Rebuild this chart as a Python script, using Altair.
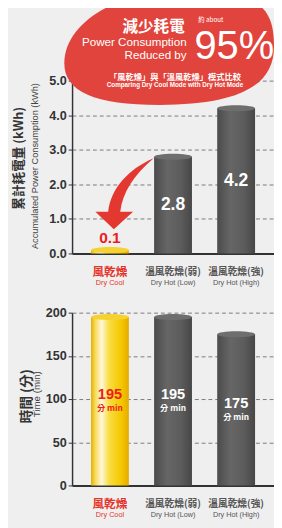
import altair as alt
import pandas as pd

# ---------------- data ----------------
categories = ["風乾燥", "溫風乾燥(弱)", "溫風乾燥(強)"]
categories_en = ["Dry Cool", "Dry Hot (Low)", "Dry Hot (High)"]
power_kwh = [0.1, 2.8, 4.2]
time_min = [195, 195, 175]
power_ticks = [0.0, 1.0, 2.0, 3.0, 4.0, 5.0]
time_ticks = [0, 50, 100, 150, 200]

# ---------------- layout / style ----------------
W = 208          # plot width
H = 417          # plot height (both panels)
TOP_H = 178      # top panel height
BOT_Y0 = 239     # y of the top of the bottom panel

LATIN = "Liberation Sans, Arial, Noto Sans CJK TC, sans-serif"
CJK = "Noto Sans CJK TC, Liberation Sans, sans-serif"
RED = "#e5332a"
GRAY_TXT = "#555555"
DARK = "#333333"
BG = "#efefef"
BADGE = "#e1443c"

power_df = pd.DataFrame({"cat": categories, "en": categories_en, "value": power_kwh})
time_df = pd.DataFrame({"cat": categories, "en": categories_en, "value": time_min})
one = pd.DataFrame({"k": [0]})

IS_COOL = "datum.cat == '風乾燥'"
NOT_COOL = "datum.cat != '風乾燥'"

yellow_grad = alt.Gradient(
    gradient="linear", x1=0, x2=1, y1=0, y2=0,
    stops=[alt.GradientStop(color="#e6b000", offset=0),
           alt.GradientStop(color="#f8dc60", offset=0.12),
           alt.GradientStop(color="#fff8d8", offset=0.28),
           alt.GradientStop(color="#f9dc40", offset=0.48),
           alt.GradientStop(color="#f4c800", offset=0.8),
           alt.GradientStop(color="#e6aa00", offset=1)])
gray_grad = alt.Gradient(
    gradient="linear", x1=0, x2=1, y1=0, y2=0,
    stops=[alt.GradientStop(color="#4b4b4b", offset=0),
           alt.GradientStop(color="#666666", offset=0.35),
           alt.GradientStop(color="#5c5c5c", offset=0.7),
           alt.GradientStop(color="#474747", offset=1)])

CYL_TOP = ("M -1 0 C -1 -0.088 -0.552 -0.16 0 -0.16 C 0.552 -0.16 1 -0.088 1 0 "
           "C 1 0.088 0.552 0.16 0 0.16 C -0.552 0.16 -1 0.088 -1 0 Z")
BADGE_PATH = ("M 1.08 -0.05 C 1.08 0.358 0.702 0.55 -0.10 0.55 "
              "C -0.766 0.55 -1.08 0.412 -1.08 0.12 "
              "C -1.08 -0.287 -0.549 -0.62 0.10 -0.62 "
              "C 0.884 -0.62 1.08 -0.506 1.08 -0.05 Z")
ARROW_PATH = ("M 0.75 -0.875 C 0.1 -0.6 -0.35 -0.1 -0.42 0.5 L -0.75 0.5 "
              "L -0.275 0.95 L 0.22 0.5 L -0.11 0.5 C -0.05 0.0 0.25 -0.45 0.75 -0.875 Z")


def xenc(offset):
    return alt.X("cat:N", sort=categories, title=None,
                 scale=alt.Scale(paddingInner=0.4, paddingOuter=0.3),
                 axis=alt.Axis(orient="bottom", offset=offset, labels=False, ticks=False,
                               grid=False, domainColor=DARK, domainWidth=2, title=None))


def yaxis(values, fmt):
    return alt.Axis(orient="left", values=values, format=fmt, title=None,
                    labelFont=LATIN, labelFontSize=13, labelFontWeight="bold",
                    labelColor=DARK, labelPadding=2, tickSize=4, tickColor=DARK,
                    domainColor=DARK, domainWidth=1.5, grid=True, gridDash=[4, 3],
                    gridColor="#7a7a7a", gridWidth=1)


def ytop(field):
    return alt.Y(field, title=None,
                 scale=alt.Scale(domain=[0, 5], range=[TOP_H, 0], nice=False),
                 axis=yaxis(power_ticks, ".1f"))


def ybot(field):
    return alt.Y(field, title=None,
                 scale=alt.Scale(domain=[0, 200], range=[H, BOT_Y0], nice=False),
                 axis=yaxis(time_ticks, "d"))


def txt(s, x, y, size, color, font=LATIN, weight="normal", align="center", angle=0):
    return alt.Chart(one).mark_text(
        text=s, fontSize=size, color=color, font=font, fontWeight=weight,
        align=align, baseline="middle", angle=angle
    ).encode(x=alt.value(x), y=alt.value(y))


XT = -(H - TOP_H)

# ---------------- top panel: power ----------------
top_layers = [
    alt.Chart(power_df).mark_bar(color=gray_grad).encode(x=xenc(XT), y=ytop("value:Q"))
    .transform_filter(NOT_COOL),
    alt.Chart(power_df).mark_bar(color=yellow_grad).encode(x=xenc(XT), y=ytop("value:Q"))
    .transform_filter(IS_COOL),
    alt.Chart(power_df).mark_point(shape=CYL_TOP, filled=True, opacity=1, size=1521, strokeWidth=0)
    .encode(x=xenc(XT), y=ytop("value:Q"),
            color=alt.condition(IS_COOL, alt.value("#f6d230"), alt.value("#6e6e6e"))),
    alt.Chart(power_df).mark_text(font=LATIN, fontWeight="bold", fontSize=16, color="#ee1c1c", dy=-12)
    .encode(x=xenc(XT), y=ytop("value:Q"), text=alt.Text("value:Q", format=".1f"))
    .transform_filter(IS_COOL),
    alt.Chart(power_df).mark_text(font=LATIN, fontWeight="bold", fontSize=18, color="white")
    .encode(x=xenc(XT), y=ytop("half:Q"), text=alt.Text("value:Q", format=".1f"))
    .transform_filter(NOT_COOL).transform_calculate(half="datum.value / 2"),
    alt.Chart(power_df).mark_text(font=CJK, fontWeight="bold", baseline="middle")
    .encode(x=xenc(XT), y=alt.value(TOP_H + 19), text="cat:N",
            color=alt.condition(IS_COOL, alt.value(RED), alt.value(GRAY_TXT)),
            size=alt.condition(IS_COOL, alt.value(12), alt.value(10))),
    alt.Chart(power_df).mark_text(font=LATIN, fontSize=7.5, baseline="middle")
    .encode(x=xenc(XT), y=alt.value(TOP_H + 30), text="en:N",
            color=alt.condition(IS_COOL, alt.value(RED), alt.value(GRAY_TXT))),
    txt("累計耗電量 (kWh)", -55, 80, 13, DARK, font=CJK, weight="bold", angle=270),
    txt("Accumulated Power Consumption (kWh)", -38, 88, 9.5, "#444444", angle=270),
    alt.Chart(one).mark_point(shape=ARROW_PATH, filled=True, opacity=1, size=6400,
                              color="#e2382f", strokeWidth=0)
    .encode(x=alt.value(54), y=alt.value(115)),
    alt.Chart(one).mark_point(shape=BADGE_PATH, filled=True, opacity=1, size=40000,
                              color=BADGE, strokeWidth=0)
    .encode(x=alt.value(100), y=alt.value(-30)),
    txt("減少耗電", 84, -55, 16, "white", font=CJK, weight="bold"),
    txt("約 about", 130, -62, 6.5, "white", font=CJK, align="left"),
    txt("Power Consumption", 118, -40, 12, "white", align="right"),
    txt("Reduced by", 118, -26, 12, "white", align="right"),
    txt("95%", 126, -34, 41, "white", align="left"),
    txt("「風乾燥」與「溫風乾燥」模式比較", 106, -4, 8.5, "white", font=CJK, weight="bold"),
    txt("Comparing Dry Cool Mode with Dry Hot Mode", 106, 5, 6.5, "white", weight="bold"),
]
top = alt.layer(*top_layers)

# ---------------- bottom panel: time ----------------
bot_layers = [
    alt.Chart(time_df).mark_bar(color=gray_grad).encode(x=xenc(0), y=ybot("value:Q"))
    .transform_filter(NOT_COOL),
    alt.Chart(time_df).mark_bar(color=yellow_grad).encode(x=xenc(0), y=ybot("value:Q"))
    .transform_filter(IS_COOL),
    alt.Chart(time_df).mark_point(shape=CYL_TOP, filled=True, opacity=1, size=1521, strokeWidth=0)
    .encode(x=xenc(0), y=ybot("value:Q"),
            color=alt.condition(IS_COOL, alt.value("#f6d230"), alt.value("#6e6e6e"))),
    alt.Chart(time_df).mark_text(font=LATIN, fontWeight="bold", fontSize=15, dy=-7)
    .encode(x=xenc(0), y=ybot("half:Q"), text="value:Q",
            color=alt.condition(IS_COOL, alt.value("#ee1c1c"), alt.value("white")))
    .transform_calculate(half="datum.value / 2"),
    alt.Chart(time_df).mark_text(font=CJK, fontWeight="bold", fontSize=8.5, dy=7)
    .encode(x=xenc(0), y=ybot("half:Q"), text=alt.value("分 min"),
            color=alt.condition(IS_COOL, alt.value("#ee1c1c"), alt.value("white")))
    .transform_calculate(half="datum.value / 2"),
    alt.Chart(time_df).mark_text(font=CJK, fontWeight="bold", baseline="middle")
    .encode(x=xenc(0), y=alt.value(H + 19), text="cat:N",
            color=alt.condition(IS_COOL, alt.value(RED), alt.value(GRAY_TXT)),
            size=alt.condition(IS_COOL, alt.value(12), alt.value(10))),
    alt.Chart(time_df).mark_text(font=LATIN, fontSize=7.5, baseline="middle")
    .encode(x=xenc(0), y=alt.value(H + 31), text="en:N",
            color=alt.condition(IS_COOL, alt.value(RED), alt.value(GRAY_TXT))),
    txt("時間 (分)", -46, 325, 14, DARK, font=CJK, weight="bold", angle=270),
    txt("Time (min)", -36, 323, 10, "#444444", angle=270),
]
bottom = alt.layer(*bot_layers)

chart = alt.layer(top, bottom).resolve_scale(x="independent", y="independent").properties(
    width=W, height=H,
    autosize=alt.AutoSizeParams(type="none"),
    padding={"left": 66, "top": 67, "right": 0, "bottom": 36},
    background=BG,
).configure_view(stroke=None)

chart.save("out.html", embed_options={"renderer": "svg", "actions": False})
